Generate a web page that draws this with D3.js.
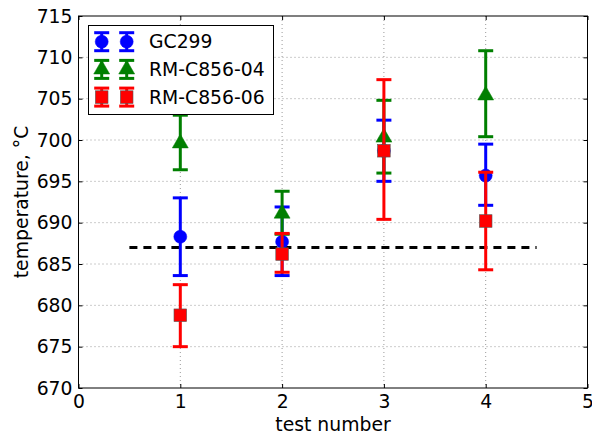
<!DOCTYPE html>
<html><head><meta charset="utf-8">
<script src="https://cdn.jsdelivr.net/npm/d3@7"></script>
<style>body{margin:0;background:#fff}text{font-family:"DejaVu Sans",sans-serif}</style>
</head><body><svg id="c" width="592" height="436"></svg>
<script>
const tests = [1, 2, 3, 4];
const seriesNames = ["GC299", "RM-C856-04", "RM-C856-06"];
const seriesColors = ["#0000ff", "#007f00", "#ff0000"];
const seriesShapes = ["circle", "triangle", "square"];
const gcValue = [688.3, 687.7, 698.7, 695.7];
const gcLow = [683.6, 683.6, 695.0, 692.1];
const gcHigh = [693.0, 691.9, 702.4, 699.5];
const c04Value = [699.6, 691.1, 700.3, 705.4];
const c04Low = [696.4, 688.6, 696.0, 700.4];
const c04High = [703.0, 693.8, 704.8, 710.8];
const c06Value = [678.8, 686.2, 698.7, 690.2];
const c06Low = [675.0, 684.0, 690.4, 684.3];
const c06High = [682.5, 688.7, 707.3, 696.1];
const refLine = {x0: 0.5, x1: 4.5, y: 687.0};
const xTicks = [0, 1, 2, 3, 4, 5];
const yTicks = [670, 675, 680, 685, 690, 695, 700, 705, 710, 715];

const values = [gcValue, c04Value, c06Value];
const lows = [gcLow, c04Low, c06Low];
const highs = [gcHigh, c04High, c06High];

const svg = d3.select("#c");
const L = 78.5, R = 587.5, T = 16, B = 388;
const x = d3.scaleLinear().domain([0, 5]).range([L, R]);
const y = d3.scaleLinear().domain([670, 715]).range([B, T]);

// grid
const g = svg.append("g");
g.selectAll(".gx").data(xTicks.slice(1, -1)).join("line")
  .attr("x1", d => x(d)).attr("x2", d => x(d)).attr("y1", T).attr("y2", B)
  .attr("stroke", "#999").attr("stroke-width", 1).attr("stroke-dasharray", "1,3");
g.selectAll(".gy").data(yTicks.slice(1, -1)).join("line")
  .attr("y1", d => y(d)).attr("y2", d => y(d)).attr("x1", L).attr("x2", R)
  .attr("stroke", "#999").attr("stroke-width", 1).attr("stroke-dasharray", "1,3");

// axes
const fs = "18.8px";
const ax = svg.append("g").attr("transform", `translate(0,${B})`)
  .call(d3.axisBottom(x).tickValues(xTicks).tickFormat(d3.format("d")).tickSizeInner(-4).tickSizeOuter(0).tickPadding(7));
const ay = svg.append("g").attr("transform", `translate(${L},0)`)
  .call(d3.axisLeft(y).tickValues(yTicks).tickFormat(d3.format("d")).tickSizeInner(-4).tickSizeOuter(0).tickPadding(6));
const ax2 = svg.append("g").attr("transform", `translate(0,${T})`)
  .call(d3.axisTop(x).tickValues(xTicks).tickFormat("").tickSizeInner(-4).tickSizeOuter(0));
const ay2 = svg.append("g").attr("transform", `translate(${R},0)`)
  .call(d3.axisRight(y).tickValues(yTicks).tickFormat("").tickSizeInner(-4).tickSizeOuter(0));
[ax, ay, ax2, ay2].forEach(a => {
  a.select(".domain").remove();
  a.selectAll("line").attr("stroke", "#000");
  a.selectAll("text").attr("font-size", fs).attr("fill", "#000").attr("font-family", "DejaVu Sans");
});
ax.selectAll("text").attr("dy", "0.71em");
svg.append("rect").attr("x", L).attr("y", T).attr("width", R - L).attr("height", B - T)
  .attr("fill", "none").attr("stroke", "#000").attr("stroke-width", 1);

// reference line
svg.append("line").attr("x1", x(refLine.x0)).attr("x2", x(refLine.x1))
  .attr("y1", y(refLine.y)).attr("y2", y(refLine.y))
  .attr("stroke", "#000").attr("stroke-width", 3).attr("stroke-dasharray", "8,6");

function marker(sel, shape, color, cx, cy) {
  if (shape === "circle") sel.append("circle").attr("cx", cx).attr("cy", cy).attr("r", 6.5).attr("fill", color).attr("stroke", color).attr("stroke-width", 0.5);
  else if (shape === "triangle") sel.append("path").attr("d", d3.symbol(d3.symbolTriangle, 110)()).attr("transform", `translate(${cx},${cy})`).attr("fill", color).attr("stroke", color).attr("stroke-width", 0.5);
  else sel.append("rect").attr("x", cx - 6.3).attr("y", cy - 6.3).attr("width", 12.6).attr("height", 12.6).attr("fill", color).attr("stroke", "#555").attr("stroke-width", 0.6);
}
function errbar(sel, color, cx, y1, y2) {
  sel.append("line").attr("x1", cx).attr("x2", cx).attr("y1", y1).attr("y2", y2).attr("stroke", color).attr("stroke-width", 3);
  [y1, y2].forEach(yy => sel.append("line").attr("x1", cx - 7.5).attr("x2", cx + 7.5).attr("y1", yy).attr("y2", yy).attr("stroke", color).attr("stroke-width", 3));
}

seriesNames.forEach((name, si) => {
  const sg = svg.append("g");
  tests.forEach((t, i) => {
    errbar(sg, seriesColors[si], x(t), y(lows[si][i]), y(highs[si][i]));
    marker(sg, seriesShapes[si], seriesColors[si], x(t), y(values[si][i]));
  });
});

// legend
const lg = svg.append("g");
lg.append("rect").attr("x", 88.5).attr("y", 25.5).attr("width", 185).attr("height", 89)
  .attr("fill", "#fff").attr("stroke", "#000").attr("stroke-width", 1);
seriesNames.forEach((name, si) => {
  const ly = 41.7 + si * 27.7;
  [101.7, 126.7].forEach(lx => {
    errbar(lg, seriesColors[si], lx, ly - 9, ly + 9);
    marker(lg, seriesShapes[si], seriesColors[si], lx, ly);
  });
  lg.append("text").attr("x", 149).attr("y", ly).attr("dy", "0.36em").attr("font-size", fs).text(name);
});

// labels
svg.append("text").attr("x", (L + R) / 2).attr("y", 431).attr("text-anchor", "middle").attr("font-size", fs).text("test number");
svg.append("text").attr("transform", `translate(28,${(T + B) / 2}) rotate(-90)`).attr("text-anchor", "middle").attr("font-size", fs).text("temperature, °C");
</script></body></html>
